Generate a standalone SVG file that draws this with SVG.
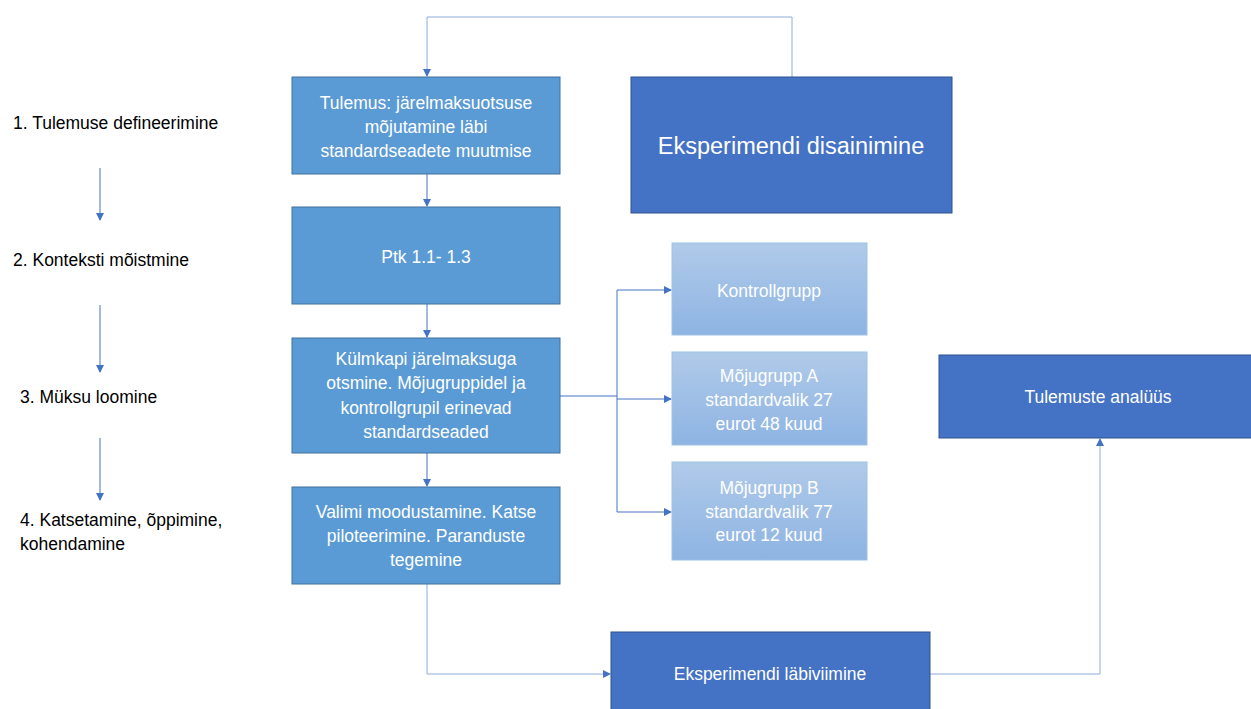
<svg xmlns="http://www.w3.org/2000/svg" width="1251" height="709" viewBox="0 0 1251 709">
<style>
.mid{fill:#5B9BD5;stroke:#41719C;stroke-width:1}
.dark{fill:#4472C4;stroke:#2F528F;stroke-width:1}
.light{fill:url(#lg);stroke:#9DC3E6;stroke-width:1}
.wt{font-family:"Liberation Sans",Arial,sans-serif;font-size:17.5px;fill:#ffffff;text-anchor:middle}
.bt{font-family:"Liberation Sans",Arial,sans-serif;font-size:17.5px;fill:#000000}
.ln{fill:none;stroke:#4472C4;stroke-width:1}
.ln2{fill:none;stroke:#8FAADC;stroke-width:1}
</style>
<defs>
<linearGradient id="lg" x1="0" y1="0" x2="0" y2="1">
<stop offset="0" stop-color="#B0CAE9"/>
<stop offset="1" stop-color="#8EB4E3"/>
</linearGradient>
<marker id="ah" markerWidth="8" markerHeight="8" refX="7" refY="4" orient="auto" markerUnits="userSpaceOnUse">
<path d="M0,0 L8,4 L0,8 z" fill="#4472C4"/>
</marker>
</defs>
<rect width="1251" height="709" fill="#ffffff"/>
<g id="connectors">
<path class="ln2" d="M792,77 V17 H427 V76" marker-end="url(#ah)"/>
<path class="ln" d="M427,174 V206" marker-end="url(#ah)"/>
<path class="ln" d="M427,304 V337" marker-end="url(#ah)"/>
<path class="ln" d="M427,453 V486" marker-end="url(#ah)"/>
<path class="ln" d="M560,396 H617"/>
<path class="ln" d="M617,290 V512"/>
<path class="ln" d="M617,290 H671" marker-end="url(#ah)"/>
<path class="ln" d="M617,399 H671" marker-end="url(#ah)"/>
<path class="ln" d="M617,512 H671" marker-end="url(#ah)"/>
<path class="ln2" d="M427,584 V674 H610" marker-end="url(#ah)"/>
<path class="ln2" d="M930,674 H1100 V439" marker-end="url(#ah)"/>
<path class="ln" d="M100,168 V220" marker-end="url(#ah)"/>
<path class="ln" d="M100,305 V372" marker-end="url(#ah)"/>
<path class="ln" d="M100,438 V500" marker-end="url(#ah)"/>
</g>
<g id="labels">
<text class="bt" x="13" y="129">1. Tulemuse defineerimine</text>
<text class="bt" x="13" y="266">2. Konteksti mõistmine</text>
<text class="bt" x="20" y="403">3. Müksu loomine</text>
<text class="bt" x="20" y="526">4. Katsetamine, õppimine,</text>
<text class="bt" x="20" y="550">kohendamine</text>
</g>
<g id="n1">
<rect class="mid" x="292" y="77" width="268" height="97"/>
<text class="wt" x="426" y="109">Tulemus: järelmaksuotsuse</text>
<text class="wt" x="426" y="133">mõjutamine läbi</text>
<text class="wt" x="426" y="157">standardseadete muutmise</text>
</g>
<g id="n2">
<rect class="dark" x="631" y="77" width="321" height="136"/>
<text class="wt" x="791" y="154" style="font-size:23.5px">Eksperimendi disainimine</text>
</g>
<g id="n3">
<rect class="mid" x="292" y="207" width="268" height="97"/>
<text class="wt" x="426" y="263">Ptk 1.1- 1.3</text>
</g>
<g id="n4">
<rect class="mid" x="292" y="338" width="268" height="115"/>
<text class="wt" x="426" y="365">Külmkapi järelmaksuga</text>
<text class="wt" x="426" y="389">otsmine. Mõjugruppidel ja</text>
<text class="wt" x="426" y="414">kontrollgrupil erinevad</text>
<text class="wt" x="426" y="438">standardseaded</text>
</g>
<g id="n5">
<rect class="mid" x="292" y="487" width="268" height="97"/>
<text class="wt" x="426" y="518">Valimi moodustamine. Katse</text>
<text class="wt" x="426" y="542">piloteerimine. Paranduste</text>
<text class="wt" x="426" y="566">tegemine</text>
</g>
<g id="n6">
<rect class="light" x="672" y="243" width="195" height="92"/>
<text class="wt" x="769" y="297">Kontrollgrupp</text>
</g>
<g id="n7">
<rect class="light" x="672" y="352" width="195" height="93"/>
<text class="wt" x="769" y="382">Mõjugrupp A</text>
<text class="wt" x="769" y="406">standardvalik 27</text>
<text class="wt" x="769" y="430">eurot 48 kuud</text>
</g>
<g id="n8">
<rect class="light" x="672" y="462" width="195" height="98"/>
<text class="wt" x="769" y="494">Mõjugrupp B</text>
<text class="wt" x="769" y="518">standardvalik 77</text>
<text class="wt" x="769" y="541">eurot 12 kuud</text>
</g>
<g id="n9">
<rect class="dark" x="939" y="355" width="313" height="83"/>
<text class="wt" x="1098" y="403">Tulemuste analüüs</text>
</g>
<g id="n10">
<rect class="dark" x="611" y="632" width="319" height="78"/>
<text class="wt" x="770" y="680">Eksperimendi läbiviimine</text>
</g>
</svg>
